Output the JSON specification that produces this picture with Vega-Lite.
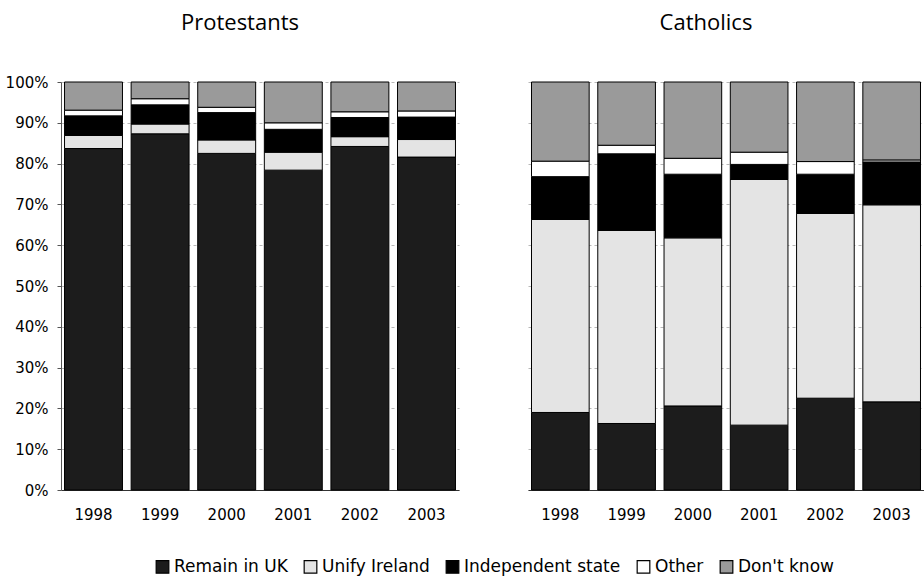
{
  "$schema": "https://vega.github.io/schema/vega-lite/v6.json",
  "background": "white",
  "padding": {"top": 11, "left": 5, "right": 5, "bottom": 5},
  "config": {
    "view": {"stroke": null},
    "font": "DejaVu Sans",
    "axis": {"labelFont": "DejaVu Sans", "labelFontSize": 15, "labelColor": "#000"},
    "title": {"font": "Open Sans", "fontSize": 22, "fontWeight": "normal", "color": "#000", "anchor": "middle", "frame": "group", "offset": 47, "dx": -20}
  },
  "data": {"values": [
    {"group": "Protestants", "year": "1998", "response": "Remain in UK", "value": 83.7},
    {"group": "Protestants", "year": "1998", "response": "Unify Ireland", "value": 3.2},
    {"group": "Protestants", "year": "1998", "response": "Independent state", "value": 4.8},
    {"group": "Protestants", "year": "1998", "response": "Other", "value": 1.4},
    {"group": "Protestants", "year": "1998", "response": "Don't know", "value": 6.9},
    {"group": "Protestants", "year": "1999", "response": "Remain in UK", "value": 87.3},
    {"group": "Protestants", "year": "1999", "response": "Unify Ireland", "value": 2.4},
    {"group": "Protestants", "year": "1999", "response": "Independent state", "value": 4.7},
    {"group": "Protestants", "year": "1999", "response": "Other", "value": 1.5},
    {"group": "Protestants", "year": "1999", "response": "Don't know", "value": 4.1},
    {"group": "Protestants", "year": "2000", "response": "Remain in UK", "value": 82.5},
    {"group": "Protestants", "year": "2000", "response": "Unify Ireland", "value": 3.3},
    {"group": "Protestants", "year": "2000", "response": "Independent state", "value": 6.7},
    {"group": "Protestants", "year": "2000", "response": "Other", "value": 1.3},
    {"group": "Protestants", "year": "2000", "response": "Don't know", "value": 6.2},
    {"group": "Protestants", "year": "2001", "response": "Remain in UK", "value": 78.4},
    {"group": "Protestants", "year": "2001", "response": "Unify Ireland", "value": 4.4},
    {"group": "Protestants", "year": "2001", "response": "Independent state", "value": 5.6},
    {"group": "Protestants", "year": "2001", "response": "Other", "value": 1.6},
    {"group": "Protestants", "year": "2001", "response": "Don't know", "value": 10.0},
    {"group": "Protestants", "year": "2002", "response": "Remain in UK", "value": 84.2},
    {"group": "Protestants", "year": "2002", "response": "Unify Ireland", "value": 2.4},
    {"group": "Protestants", "year": "2002", "response": "Independent state", "value": 4.7},
    {"group": "Protestants", "year": "2002", "response": "Other", "value": 1.4},
    {"group": "Protestants", "year": "2002", "response": "Don't know", "value": 7.3},
    {"group": "Protestants", "year": "2003", "response": "Remain in UK", "value": 81.6},
    {"group": "Protestants", "year": "2003", "response": "Unify Ireland", "value": 4.3},
    {"group": "Protestants", "year": "2003", "response": "Independent state", "value": 5.5},
    {"group": "Protestants", "year": "2003", "response": "Other", "value": 1.5},
    {"group": "Protestants", "year": "2003", "response": "Don't know", "value": 7.1},
    {"group": "Catholics", "year": "1998", "response": "Remain in UK", "value": 19.0},
    {"group": "Catholics", "year": "1998", "response": "Unify Ireland", "value": 47.3},
    {"group": "Catholics", "year": "1998", "response": "Independent state", "value": 10.5},
    {"group": "Catholics", "year": "1998", "response": "Other", "value": 3.8},
    {"group": "Catholics", "year": "1998", "response": "Don't know", "value": 19.4},
    {"group": "Catholics", "year": "1999", "response": "Remain in UK", "value": 16.3},
    {"group": "Catholics", "year": "1999", "response": "Unify Ireland", "value": 47.3},
    {"group": "Catholics", "year": "1999", "response": "Independent state", "value": 18.8},
    {"group": "Catholics", "year": "1999", "response": "Other", "value": 2.1},
    {"group": "Catholics", "year": "1999", "response": "Don't know", "value": 15.5},
    {"group": "Catholics", "year": "2000", "response": "Remain in UK", "value": 20.6},
    {"group": "Catholics", "year": "2000", "response": "Unify Ireland", "value": 41.2},
    {"group": "Catholics", "year": "2000", "response": "Independent state", "value": 15.6},
    {"group": "Catholics", "year": "2000", "response": "Other", "value": 3.9},
    {"group": "Catholics", "year": "2000", "response": "Don't know", "value": 18.7},
    {"group": "Catholics", "year": "2001", "response": "Remain in UK", "value": 15.9},
    {"group": "Catholics", "year": "2001", "response": "Unify Ireland", "value": 60.2},
    {"group": "Catholics", "year": "2001", "response": "Independent state", "value": 3.7},
    {"group": "Catholics", "year": "2001", "response": "Other", "value": 3.0},
    {"group": "Catholics", "year": "2001", "response": "Don't know", "value": 17.2},
    {"group": "Catholics", "year": "2002", "response": "Remain in UK", "value": 22.5},
    {"group": "Catholics", "year": "2002", "response": "Unify Ireland", "value": 45.3},
    {"group": "Catholics", "year": "2002", "response": "Independent state", "value": 9.6},
    {"group": "Catholics", "year": "2002", "response": "Other", "value": 3.1},
    {"group": "Catholics", "year": "2002", "response": "Don't know", "value": 19.5},
    {"group": "Catholics", "year": "2003", "response": "Remain in UK", "value": 21.6},
    {"group": "Catholics", "year": "2003", "response": "Unify Ireland", "value": 48.3},
    {"group": "Catholics", "year": "2003", "response": "Independent state", "value": 10.5},
    {"group": "Catholics", "year": "2003", "response": "Other", "value": 0.5},
    {"group": "Catholics", "year": "2003", "response": "Don't know", "value": 19.1}
  ]},
  "transform": [
    {"calculate": "indexof(['Remain in UK', 'Unify Ireland', 'Independent state', 'Other', \"Don't know\"], datum.response)", "as": "stackOrder"}
  ],
  "spacing": 69,
  "hconcat": [
    {
      "title": {"text": "Protestants", "dy": 7},
      "width": 398,
      "height": 408,
      "transform": [{"filter": "datum.group === 'Protestants'"}],
      "mark": {"type": "bar", "stroke": "#000", "strokeWidth": 1},
      "encoding": {
        "x": {"field": "year", "type": "ordinal", "scale": {"paddingInner": 0.13, "paddingOuter": 0.053},
              "axis": {"title": null, "labelAngle": 0, "ticks": false, "labelPadding": 17, "domainColor": "#333"}},
        "y": {"field": "value", "type": "quantitative", "stack": "normalize",
              "scale": {"domain": [0, 1]},
              "axis": {"title": null, "format": ".0%", "values": [0,0.1,0.2,0.3,0.4,0.5,0.6,0.7,0.8,0.9,1],
                       "tickSize": 4, "labelPadding": 9, "domainColor": "#555", "tickColor": "#555",
                       "gridColor": "#888", "gridDash": [3, 3], "gridWidth": 0.6}},
        "color": {"field": "response", "type": "nominal",
                  "sort": ["Remain in UK", "Unify Ireland", "Independent state", "Other", "Don't know"],
                  "scale": {"domain": ["Remain in UK", "Unify Ireland", "Independent state", "Other", "Don't know"],
                            "range": ["#1c1c1c", "#e4e4e4", "#000000", "#ffffff", "#9a9a9a"]},
                  "legend": {"title": null, "orient": "none", "legendX": 93, "legendY": 476, "direction": "horizontal", "symbolType": "square",
                             "symbolSize": 160, "symbolStrokeColor": "#000", "symbolStrokeWidth": 1.2,
                             "labelFont": "DejaVu Sans", "labelFontSize": 17, "labelColor": "#000",
                             "columnPadding": 13, "labelOffset": 3}},
        "order": {"field": "stackOrder", "type": "quantitative", "sort": "ascending"}
      }
    },
    {
      "title": "Catholics",
      "width": 396,
      "height": 408,
      "transform": [{"filter": "datum.group === 'Catholics'"}],
      "mark": {"type": "bar", "stroke": "#000", "strokeWidth": 1},
      "encoding": {
        "x": {"field": "year", "type": "ordinal", "scale": {"paddingInner": 0.13, "paddingOuter": 0.053},
              "axis": {"title": null, "labelAngle": 0, "ticks": false, "labelPadding": 17, "domainColor": "#333"}},
        "y": {"field": "value", "type": "quantitative", "stack": "normalize",
              "scale": {"domain": [0, 1]},
              "axis": {"title": null, "labels": false, "ticks": false, "domain": false,
                       "values": [0,0.1,0.2,0.3,0.4,0.5,0.6,0.7,0.8,0.9,1],
                       "gridColor": "#888", "gridDash": [3, 3], "gridWidth": 0.6}},
        "color": {"field": "response", "type": "nominal",
                  "sort": ["Remain in UK", "Unify Ireland", "Independent state", "Other", "Don't know"],
                  "scale": {"domain": ["Remain in UK", "Unify Ireland", "Independent state", "Other", "Don't know"],
                            "range": ["#1c1c1c", "#e4e4e4", "#000000", "#ffffff", "#9a9a9a"]}},
        "order": {"field": "stackOrder", "type": "quantitative", "sort": "ascending"}
      }
    }
  ]
}
